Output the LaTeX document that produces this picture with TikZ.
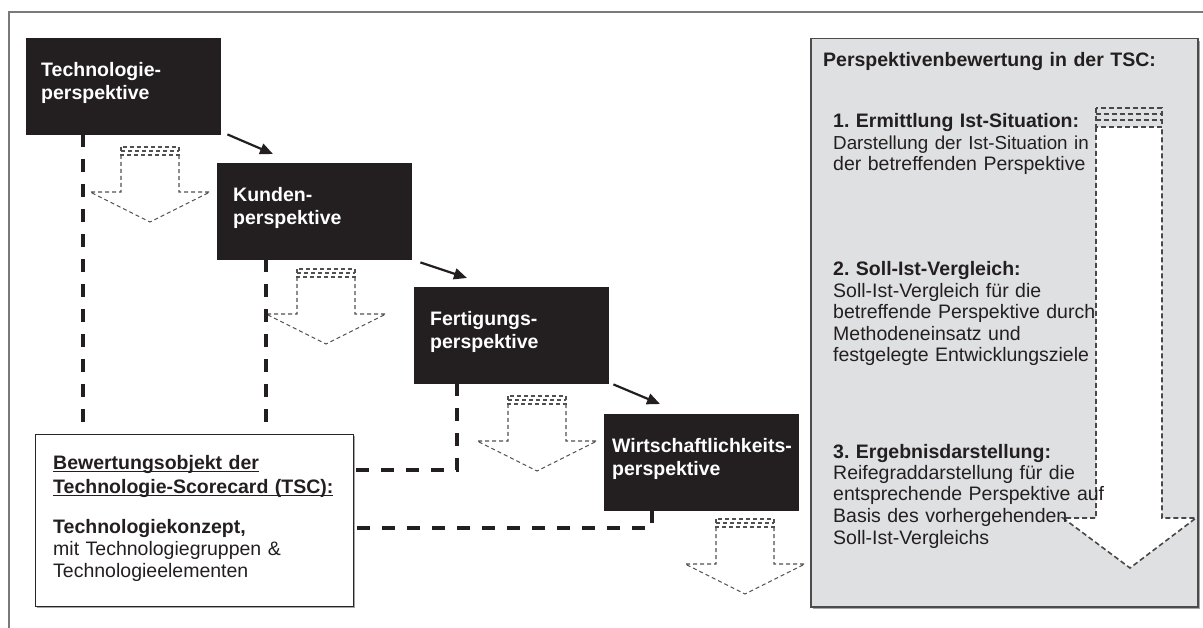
\documentclass[tikz,border=0pt]{standalone}
\usepackage{fontspec}
\setmainfont{Liberation Sans}
\usetikzlibrary{arrows.meta,calc}

\definecolor{boxblack}{HTML}{231F20}
\definecolor{panelgray}{HTML}{DFE0E1}
\definecolor{framegray}{HTML}{7A7A7A}
\definecolor{dashgray}{HTML}{505050}

% underline placed just below the baseline
\newcommand\ultext[1]{\leavevmode\setbox0\hbox{#1}\rlap{\rule[-3.2pt]{\wd0}{1.3pt}}\box0}

\tikzset{
  persp/.style={draw=boxblack, fill=boxblack, minimum width=194pt, minimum height=96pt,
    anchor=north west, inner sep=0pt},
  persplabel/.style={text=white, font=\bfseries\fontsize{19.5}{23}\selectfont,
    anchor=base west, text width=190pt, align=left, inner sep=0pt},
  bodytext/.style={text=boxblack, font=\fontsize{19.5}{21.5}\selectfont,
    anchor=base west, text width=380pt, align=left, inner sep=0pt},
  link/.style={line width=2.2pt, draw=boxblack, -{Triangle[length=13pt,width=11pt]}},
  conn/.style={line width=3.2pt, draw=boxblack, dash pattern=on 13pt off 12pt},
  thindash/.style={line width=1.1pt, draw=dashgray, dash pattern=on 4pt off 3pt},
  bigdash/.style={line width=1.6pt, draw=dashgray!90!black, dash pattern=on 5pt off 3pt},
  smallarrow/.pic={
    \draw[thindash] (-29,0) rectangle (29,8);
    \draw[thindash] (-29,4) -- (29,4);
    \draw[thindash] (-29,8) -- (-29,45) -- (-60,45) -- (0,75) -- (60,45) -- (29,45) -- (29,8);
  }
}

\begin{document}
\frenchspacing
\begin{tikzpicture}[x=1pt,y=-1pt]
\useasboundingbox (0,0) rectangle (1203,628);

% outer frame
\draw[framegray, line width=1.3pt] (9,640) -- (9,12) -- (1215,12);

% right-hand panel
\fill[black!35] (813,41) rectangle (1200,609);
\node[draw=black!70, line width=1.5pt, fill=panelgray, minimum width=387pt, minimum height=568pt,
  anchor=north west, inner sep=0pt] (panel) at (810,38) {};

% large arrow inside the panel
\fill[white] (1096,127) -- (1096,518) -- (1063,518) -- (1130,568) -- (1196,518) -- (1162,518) -- (1162,127) -- cycle;
\draw[bigdash] (1096,127) -- (1096,518) -- (1063,518) -- (1130,568) -- (1196,518) -- (1162,518) -- (1162,127);
\draw[bigdash] (1096,108) rectangle (1162,127);
\draw[bigdash] (1096,114) -- (1162,114);
\draw[bigdash] (1096,120) -- (1162,120);

\node[bodytext, font=\bfseries\fontsize{19.5}{21.5}\selectfont] (ptitle) at (823,67)
  {Perspektivenbewertung in der TSC:};
\node[bodytext] (step1) at (833,128)
  {\textbf{1. Ermittlung Ist-Situation:}\\{\fontsize{18.8}{21}\selectfont Darstellung der Ist-Situation in}\\der betreffenden Perspektive};
\node[bodytext] (step2) at (833,276)
  {\textbf{2. Soll-Ist-Vergleich:}\\Soll-Ist-Vergleich f\"ur die\\betreffende Perspektive durch\\Methodeneinsatz und\\festgelegte Entwicklungsziele};
\node[bodytext] (step3) at (833,458)
  {\textbf{3. Ergebnisdarstellung:}\\Reifegraddarstellung f\"ur die\\entsprechende Perspektive auf\\Basis des vorhergehenden\\Soll-Ist-Vergleichs};

% perspective boxes
\node[persp] (b1) at (26,38) {};
\node[persp] (b2) at (217,163) {};
\node[persp] (b3) at (414,287) {};
\node[persp] (b4) at (604,414) {};
\node[persplabel] (t1) at ($(b1.north west)+(15,39)$) {Technologie-\\perspektive};
\node[persplabel] (t2) at ($(b2.north west)+(16,39)$) {Kunden-\\perspektive};
\node[persplabel] (t3) at ($(b3.north west)+(16,39)$) {Fertigungs-\\perspektive};
\node[persplabel] (t4) at ($(b4.north west)+(8,39)$) {Wirtschaftlichkeits-\\perspektive};

% sequence arrows
\draw[link] ([shift={(7,0)}]b1.south east) -- ([shift={(56,-9)}]b2.north west);
\draw[link] ([shift={(9,3)}]b2.south east) -- ([shift={(53,-9)}]b3.north west);
\draw[link] ([shift={(5,1)}]b3.south east) -- ([shift={(56,-10)}]b4.north west);

% hollow arrows below each perspective
\pic at (150,147) {smallarrow};
\pic at (326,269) {smallarrow};
\pic at (537,396) {smallarrow};
\pic at (745,519) {smallarrow};

% evaluation object
\fill[black!35] (37,436) rectangle (355,608);
\node[draw=black!85, line width=1.2pt, fill=white, minimum width=318pt, minimum height=172pt,
  anchor=north west, inner sep=0pt] (obj) at (35,434) {};
\node[bodytext, font=\bfseries\fontsize{19.5}{24}\selectfont] (objhead) at (53,469)
  {\ultext{Bewertungsobjekt der}\\\ultext{Technologie-Scorecard (TSC):}};
\node[bodytext, font=\fontsize{19.5}{22}\selectfont] (objbody) at (53,533)
  {\textbf{Technologiekonzept,}\\mit Technologiegruppen \&\\Technologieelementen};

% dashed links from the perspectives to the evaluation object
\coordinate (c1) at ([shift={(57,0)}]b1.south west);
\coordinate (c2) at ([shift={(49,0)}]b2.south west);
\coordinate (c3) at ([shift={(43,0)}]b3.south west);
\coordinate (c4) at ([shift={(48,0)}]b4.south west);
\coordinate (e3) at ([shift={(0,36)}]obj.north east);
\coordinate (e4) at ([shift={(0,94)}]obj.north east);
\draw[conn] (c1) -- (c1 |- obj.north);
\draw[conn] (c2) -- (c2 |- obj.north);
\draw[conn] (c3) |- (e3);
\draw[conn] (c4) |- (e4);
\end{tikzpicture}
\end{document}
